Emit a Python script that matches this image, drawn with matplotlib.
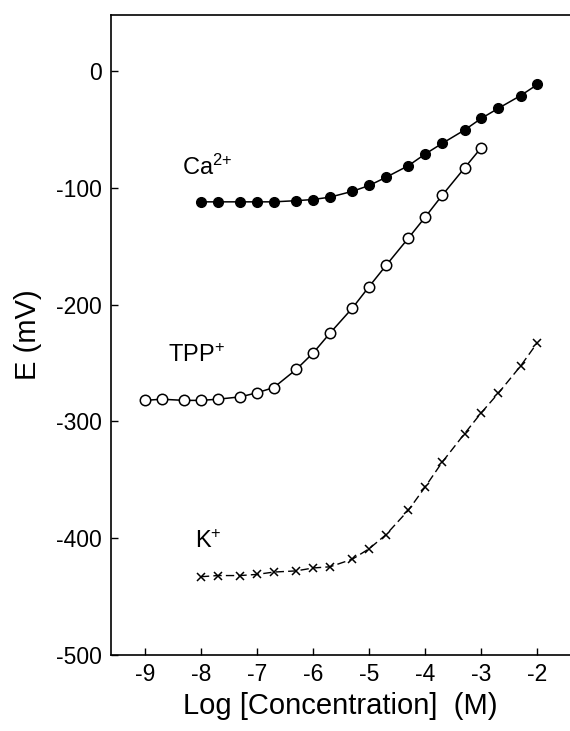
import matplotlib
matplotlib.use('Agg')
import matplotlib.pyplot as plt

plt.rcParams['font.family'] = ['Liberation Sans', 'DejaVu Sans']
plt.rcParams['mathtext.fontset'] = 'custom'
plt.rcParams['mathtext.rm'] = 'Liberation Sans'
plt.rcParams['mathtext.it'] = 'Liberation Sans:italic'
plt.rcParams['mathtext.default'] = 'regular'

# log concentration steps (1, 2, 5 per decade)
log_conc = [-9, -8.7, -8.3, -8, -7.7, -7.3, -7, -6.7, -6.3, -6, -5.7, -5.3,
            -5, -4.7, -4.3, -4, -3.7, -3.3, -3, -2.7, -2.3, -2]

# Ca2+ : -8 .. -2
ca_x = log_conc[3:]
ca_e = [-112, -112, -112, -112, -112, -111, -110, -108, -103, -98, -91,
        -81, -71, -62, -50.5, -40.5, -32, -21, -11.5]

# TPP+ : -9 .. -3
tpp_x = log_conc[:19]
tpp_e = [-282, -281, -282, -282, -281, -279, -275.5, -271, -255.5, -241.5,
         -224.5, -203, -184.5, -166.5, -143, -125, -106.5, -83, -65.5]

# K+ : -8 .. -2
k_x = log_conc[3:]
k_e = [-433, -432, -432, -431, -429, -428, -425.5, -424.5, -418, -409, -397,
       -376, -356, -335, -310.5, -292.5, -276, -252.5, -232.5]

x_ticks = [-9, -8, -7, -6, -5, -4, -3, -2]
y_ticks = [0, -100, -200, -300, -400, -500]

fig = plt.figure(figsize=(5.7, 7.31), dpi=100)
ax = fig.add_axes([0.194, 0.104, 0.806, 0.8755])

ax.plot(ca_x, ca_e, color='black', linewidth=1.1, marker='o', markersize=7,
        markerfacecolor='black', markeredgecolor='black')
ax.plot(tpp_x, tpp_e, color='black', linewidth=1.1, marker='o', markersize=7.5,
        markerfacecolor='white', markeredgecolor='black', markeredgewidth=1.1)
ax.plot(k_x, k_e, color='black', linewidth=1.0, linestyle=(0, (6, 3)),
        marker='x', markersize=5.5, markeredgewidth=1.1)

# series labels
ax.text(-8.34, -89, r'Ca$^{2{+}}$', fontsize=17, ha='left', va='baseline')
ax.text(-8.58, -249, r'TPP$^{+}$', fontsize=17, ha='left', va='baseline')
ax.text(-8.1, -408.5, r'K$^{+}$', fontsize=17, ha='left', va='baseline')

ax.set_xlim(-9.61, -1.42)
ax.set_ylim(-500, 48)
ax.set_xticks(x_ticks)
ax.set_xticklabels([str(t) for t in x_ticks])
ax.set_yticks(y_ticks)
ax.set_yticklabels([str(t) for t in y_ticks])
ax.tick_params(direction='in', length=5, width=1, labelsize=16.5, pad=6)

ax.spines['right'].set_visible(False)
for s in ['left', 'bottom', 'top']:
    ax.spines[s].set_linewidth(1.2)

ax.set_xlabel('Log [Concentration]  (M)', fontsize=21, labelpad=4)
ax.set_ylabel('E (mV)', fontsize=21, labelpad=10)

fig.savefig('out.png', dpi=100)
